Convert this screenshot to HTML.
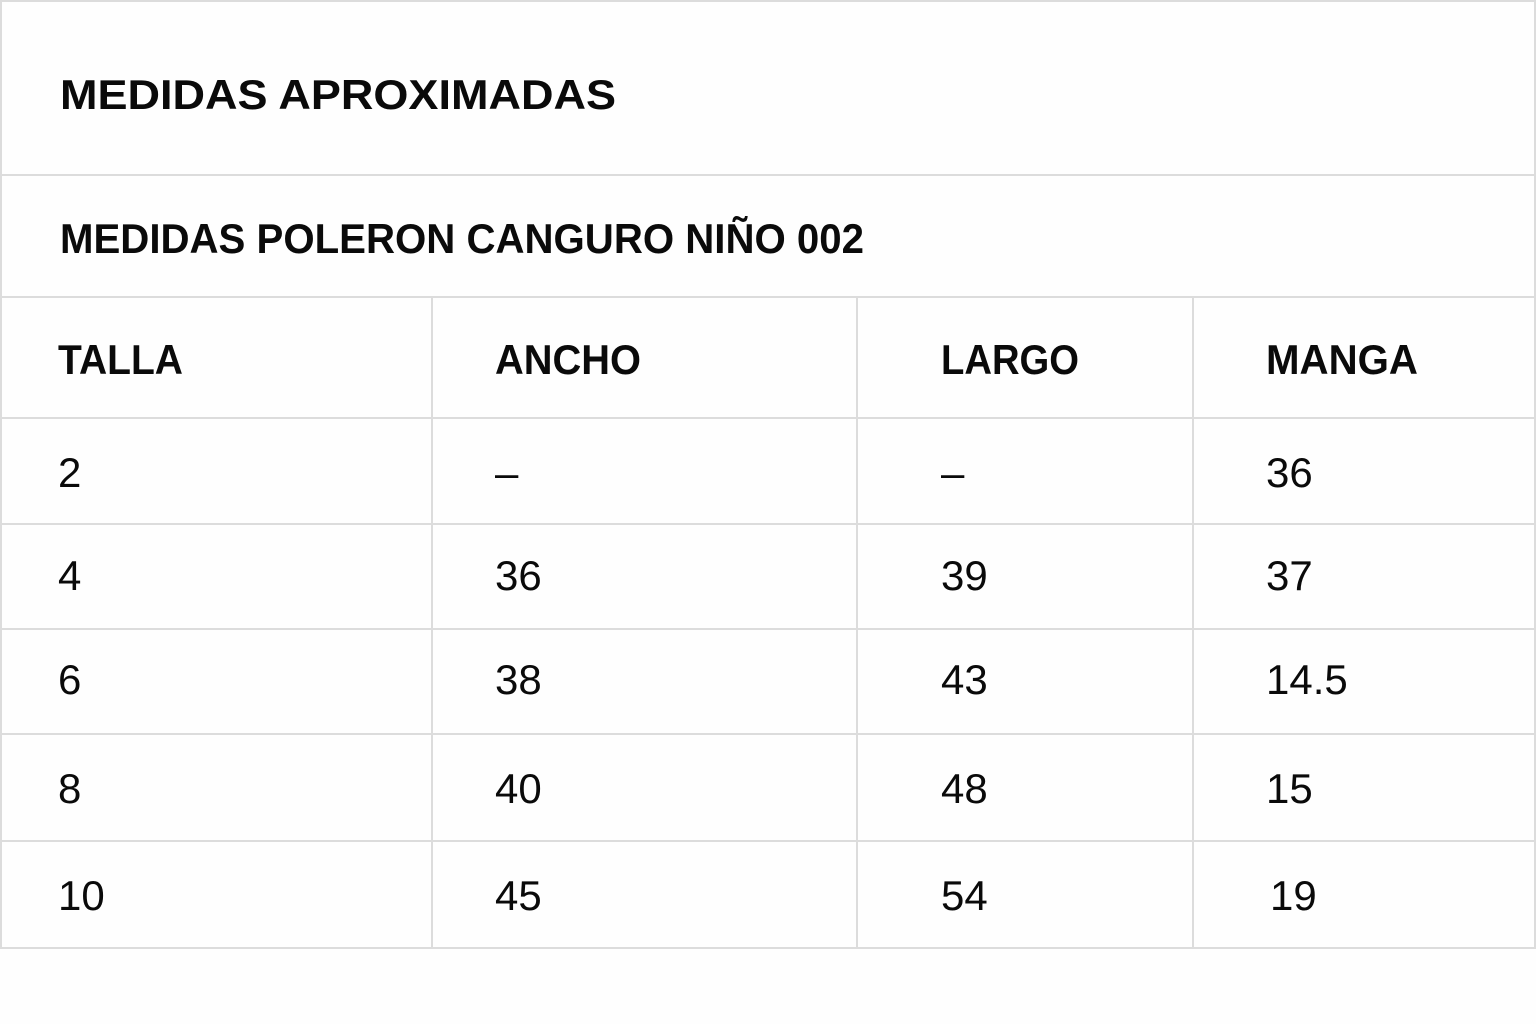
<!DOCTYPE html>
<html><head><meta charset="utf-8"><style>
html,body{margin:0;padding:0;background:#fefefe;}
svg{display:block;}
text{font-family:"Liberation Sans",sans-serif;fill:#0a0a0a;}
.b{font-weight:bold;}
</style></head><body>
<svg width="1536" height="1024" viewBox="0 0 1536 1024" xmlns="http://www.w3.org/2000/svg">
<rect width="1536" height="1024" fill="#fefefe"/>
<g stroke="#dcdcdc" stroke-width="2" fill="none">
<rect x="1" y="1" width="1534" height="947"/>
<line x1="1" y1="175" x2="1535" y2="175"/>
<line x1="1" y1="297" x2="1535" y2="297"/>
<line x1="1" y1="418" x2="1535" y2="418"/>
<line x1="1" y1="524" x2="1535" y2="524"/>
<line x1="1" y1="629" x2="1535" y2="629"/>
<line x1="1" y1="734" x2="1535" y2="734"/>
<line x1="1" y1="841" x2="1535" y2="841"/>
<line x1="432" y1="297" x2="432" y2="948"/>
<line x1="857" y1="297" x2="857" y2="948"/>
<line x1="1193" y1="297" x2="1193" y2="948"/>
</g>
<text class="b" x="60" y="109" font-size="42" textLength="556" lengthAdjust="spacingAndGlyphs">MEDIDAS APROXIMADAS</text>
<text x="60" y="253" font-size="42" font-weight="600" style="font-weight:bold" textLength="804" lengthAdjust="spacingAndGlyphs">MEDIDAS POLERON CANGURO NIÑO 002</text>
<g class="b" font-size="42" font-weight="bold">
<text x="58" y="374" textLength="125" lengthAdjust="spacingAndGlyphs">TALLA</text>
<text x="495" y="374" textLength="146" lengthAdjust="spacingAndGlyphs">ANCHO</text>
<text x="941" y="374" textLength="138" lengthAdjust="spacingAndGlyphs">LARGO</text>
<text x="1266" y="374" textLength="152" lengthAdjust="spacingAndGlyphs">MANGA</text>
</g>
<g font-size="42">
<text x="58" y="487">2</text><text x="495" y="487">–</text><text x="941" y="487">–</text><text x="1266" y="487">36</text>
<text x="58" y="590">4</text><text x="495" y="590">36</text><text x="941" y="590">39</text><text x="1266" y="590">37</text>
<text x="58" y="694">6</text><text x="495" y="694">38</text><text x="941" y="694">43</text><text x="1266" y="694">14.5</text>
<text x="58" y="803">8</text><text x="495" y="803">40</text><text x="941" y="803">48</text><text x="1266" y="803">15</text>
<text x="58" y="910">10</text><text x="495" y="910">45</text><text x="941" y="910">54</text><text x="1270" y="910">19</text>
</g>
</svg>
</body></html>
